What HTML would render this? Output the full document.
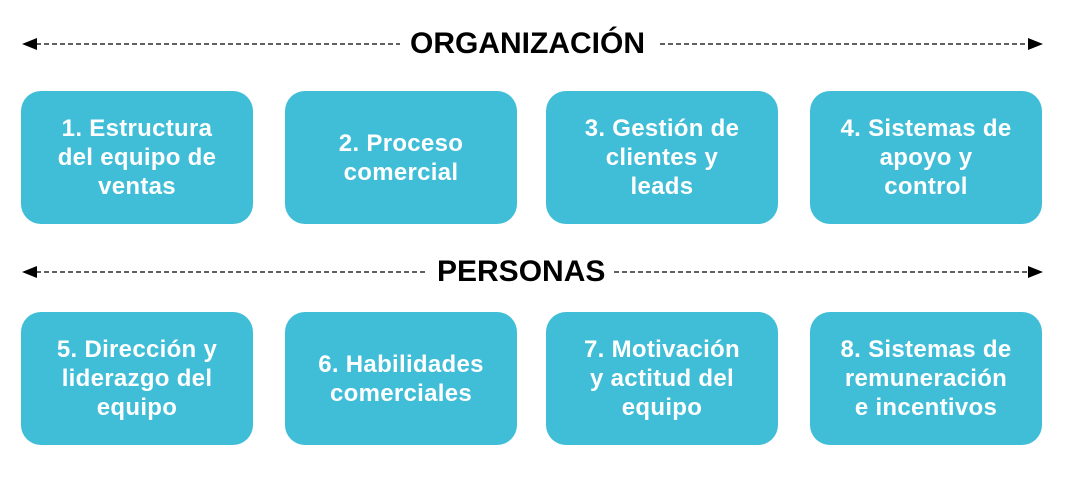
<!DOCTYPE html>
<html><head><meta charset="utf-8"><style>
body{margin:0;width:1065px;height:478px;background:#fff;position:relative;overflow:hidden;font-family:"Liberation Sans",Arial,sans-serif}
.b{position:absolute;width:232px;height:133px;border-radius:20px;background:#40bdd7;color:#fff;font-weight:bold;font-size:24px;letter-spacing:0.3px;line-height:29px;display:flex;align-items:center;justify-content:center;text-align:center}
.h{position:absolute;font-weight:bold;font-size:30px;color:#000;line-height:30px;white-space:nowrap}
</style></head><body>
<svg width="1065" height="478" style="position:absolute;left:0;top:0">
<g stroke="#000" stroke-width="1.3" stroke-dasharray="5,3">
<line x1="36" y1="44" x2="400" y2="44"/><line x1="660" y1="44" x2="1028" y2="44"/>
<line x1="36" y1="272" x2="428" y2="272"/><line x1="614" y1="272" x2="1028" y2="272"/>
</g>
<g fill="#000">
<polygon points="22,44 37,38 37,50"/><polygon points="1043,44 1028,38 1028,50"/>
<polygon points="22,272 37,266 37,278"/><polygon points="1043,272 1028,266 1028,278"/>
</g></svg>
<div class="h" style="left:410px;top:29px">ORGANIZACIÓN</div>
<div class="h" style="left:437px;top:257px">PERSONAS</div>
<div class="b" style="left:21px;top:91px">1. Estructura<br>del equipo de<br>ventas</div>
<div class="b" style="left:285px;top:91px">2. Proceso<br>comercial</div>
<div class="b" style="left:546px;top:91px">3. Gestión de<br>clientes y<br>leads</div>
<div class="b" style="left:810px;top:91px">4. Sistemas de<br>apoyo y<br>control</div>
<div class="b" style="left:21px;top:312px">5. Dirección y<br>liderazgo del<br>equipo</div>
<div class="b" style="left:285px;top:312px">6. Habilidades<br>comerciales</div>
<div class="b" style="left:546px;top:312px">7. Motivación<br>y actitud del<br>equipo</div>
<div class="b" style="left:810px;top:312px">8. Sistemas de<br>remuneración<br>e incentivos</div>
</body></html>
